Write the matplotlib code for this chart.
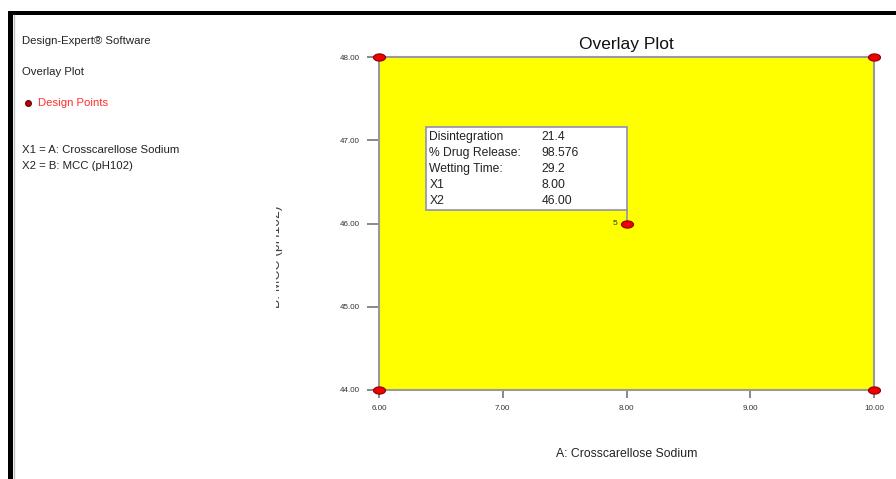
import numpy as np
import matplotlib
matplotlib.use("Agg")
import matplotlib.pyplot as plt
from matplotlib.patches import Rectangle
from matplotlib.lines import Line2D

plt.rcParams['font.family'] = ['Liberation Sans', 'DejaVu Sans']

# ---- data ----
x_ticks = [6.00, 7.00, 8.00, 9.00, 10.00]
y_ticks = [44.00, 45.00, 46.00, 47.00, 48.00]
design_x = [6.00, 6.00, 10.00, 10.00, 8.00]
design_y = [44.00, 48.00, 44.00, 48.00, 46.00]
design_labels = ["", "", "", "", "5"]
flag_names = ["Disintegration", "% Drug Release:", "Wetting Time:", "X1", "X2"]
flag_values = ["21.4", "98.576", "29.2", "8.00", "46.00"]
flag_point = (8.00, 46.00)

W, H = 896, 479
fig = plt.figure(figsize=(W / 100, H / 100), dpi=100)
fig.patch.set_facecolor('white')

def fx(px):
    return px / W

def fy(py):
    return 1 - py / H

# outer black frame (top and left)
fig.add_artist(Rectangle((fx(8), 0), fx(5), 1 - 11 / H, transform=fig.transFigure,
                         facecolor='black', edgecolor='none'))
fig.add_artist(Rectangle((fx(8), fy(15)), 1, 4 / H, transform=fig.transFigure,
                         facecolor='black', edgecolor='none'))
fig.add_artist(Line2D([fx(13.5), fx(13.5)], [0, fy(15)], transform=fig.transFigure,
                      color='#c0c0c0', lw=1))

# left panel texts
fs = 8.2
fig.text(fx(22), fy(41), "Design-Expert\u00ae Software", fontsize=fs, va='center', color='#222222')
fig.text(fx(22), fy(72), "Overlay Plot", fontsize=fs, va='center', color='#222222')
fig.add_artist(Line2D([fx(28)], [fy(103)], transform=fig.transFigure, marker='o',
                      markersize=4, color='#c00000', markeredgecolor='#700000'))
fig.text(fx(38), fy(103), "Design Points", fontsize=fs, va='center', color='#ff3030')
fig.text(fx(22), fy(150), "X1 = A: Crosscarellose Sodium", fontsize=fs, va='center', color='#222222')
fig.text(fx(22), fy(166), "X2 = B: MCC (pH102)", fontsize=fs, va='center', color='#222222')

# main axes
ax = fig.add_axes([fx(379), fy(390), fx(874) - fx(379), fy(57) - fy(390)])
ax.set_xlim(x_ticks[0], x_ticks[-1])
ax.set_ylim(y_ticks[0], y_ticks[-1])
ax.set_facecolor('#ffff00')
for s in ax.spines.values():
    s.set_color('#9a9a9a')
    s.set_linewidth(1.5)
ax.set_xticks(x_ticks)
ax.set_yticks(y_ticks)
ax.set_xticklabels([f"{v:.2f}" for v in x_ticks])
ax.set_yticklabels([f"{v:.2f}" for v in y_ticks])
ax.tick_params(direction='out', width=1.3, color='#808080',
               labelsize=5.8, labelcolor='#333333')
ax.tick_params(axis='y', length=9, pad=5)
ax.tick_params(axis='x', length=6, pad=5)

ax.set_title("Overlay Plot", fontsize=12.5, color='#111111', pad=6)
ax.set_xlabel("A: Crosscarellose Sodium", fontsize=8.8, color='#222222', labelpad=26)

# design points as flat ellipses
t = np.linspace(0, 2 * np.pi, 40)
ell = list(zip(np.cos(t), 0.6 * np.sin(t)))
ax.scatter(design_x, design_y, marker=ell, s=75, c='#ee0000', edgecolors='#900000',
           linewidths=0.8, zorder=5, clip_on=False)
for xv, yv, lab in zip(design_x, design_y, design_labels):
    if lab:
        ax.annotate(lab, (xv, yv), xytext=(-10, 0), textcoords='offset points',
                    fontsize=6, va='center', color='#333333')

# flag box
px_x = (x_ticks[-1] - x_ticks[0]) / (874 - 379)
px_y = (y_ticks[-1] - y_ticks[0]) / (390 - 57)
bx0 = flag_point[0] - (627 - 426) * px_x
bx1 = flag_point[0]
by_top = flag_point[1] + (223 - 126) * px_y
by_bot = flag_point[1] + (223 - 209) * px_y
ax.add_patch(Rectangle((bx0, by_bot), bx1 - bx0, by_top - by_bot, facecolor='white',
                       edgecolor='#9090b8', lw=1.2, zorder=3))
ax.plot([flag_point[0], flag_point[0]], [by_bot, flag_point[1]], color='#9090b8', lw=1.2, zorder=3)
for i, (n, v) in enumerate(zip(flag_names, flag_values)):
    yy = flag_point[1] + (223 - (139.5 + 16 * i)) * px_y
    ax.text(flag_point[0] - (627 - 430) * px_x, yy, n, fontsize=8.7, va='baseline', color='#222222', zorder=4)
    ax.text(flag_point[0] - (627 - 542) * px_x, yy, v, fontsize=8.7, va='baseline', color='#222222', zorder=4)

# clipped y label
ylab = fig.text(fx(276), fy(257), "B: MCC (pH102)", fontsize=10, rotation=90,
                ha='center', va='center', color='#444444')
clip = Rectangle((fx(275.5), 0), fx(20), 1, transform=fig.transFigure)
ylab.set_clip_path(clip)

fig.savefig("out.png", dpi=100)
